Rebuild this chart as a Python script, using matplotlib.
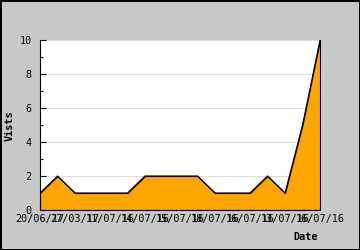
import matplotlib
matplotlib.use("Agg")
import matplotlib.pyplot as plt
import numpy as np

# visits per sample
visits = [1, 2, 1, 1, 1, 1, 2, 2, 2, 2, 1, 1, 1, 2, 1, 5, 10]
date_labels = ["20/06/17", "27/03/17", "11/07/16", "14/07/16", "15/07/16",
               "18/07/16", "16/07/16", "13/07/16", "16/07/16"]

plt.rcParams['font.family'] = 'DejaVu Sans Mono'
plt.rcParams['font.size'] = 7.3

fig = plt.figure(figsize=(3.6, 2.5), dpi=100)
fig.patch.set_facecolor('#c8c8c8')
fig.patch.set_edgecolor('black')
fig.patch.set_linewidth(2)

ax = fig.add_axes([40 / 360, 40 / 250, 280 / 360, 170 / 250])
ax.set_facecolor('white')

x = np.arange(len(visits))
ax.fill_between(x, visits, 0, facecolor='#ffa500', edgecolor='black',
                linewidth=0.8, zorder=2)
ax.plot(x, visits, color='black', linewidth=0.8, zorder=3)

ax.set_xlim(0, len(visits) - 1)
ax.set_ylim(0, 10)
ax.set_yticks(np.arange(0, 11, 2))
ax.set_yticks(np.arange(1, 10, 2), minor=True)
ax.set_xticks(np.arange(0, len(visits), 2))
ax.set_xticklabels(date_labels)
ax.yaxis.grid(True, color='#dddddd', linewidth=0.8, zorder=0)
ax.set_axisbelow(True)

ax.tick_params(axis='both', direction='in', length=4, width=0.8, colors='black')
ax.tick_params(axis='x', pad=3)
ax.tick_params(axis='y', pad=6)
ax.tick_params(axis='y', which='minor', direction='in', length=2.5, width=0.8)

for side in ['top', 'right']:
    ax.spines[side].set_visible(False)
for side in ['left', 'bottom']:
    ax.spines[side].set_linewidth(0.8)

fig.text(10 / 360, 1 - 126 / 250, 'Vists', rotation=90, fontweight='bold',
         ha='center', va='center')
fig.text(318 / 360, 1 - 237 / 250, 'Date', fontweight='bold', ha='right', va='center')

fig.savefig('out.png', dpi=100, facecolor=fig.get_facecolor(), edgecolor=fig.get_edgecolor())
